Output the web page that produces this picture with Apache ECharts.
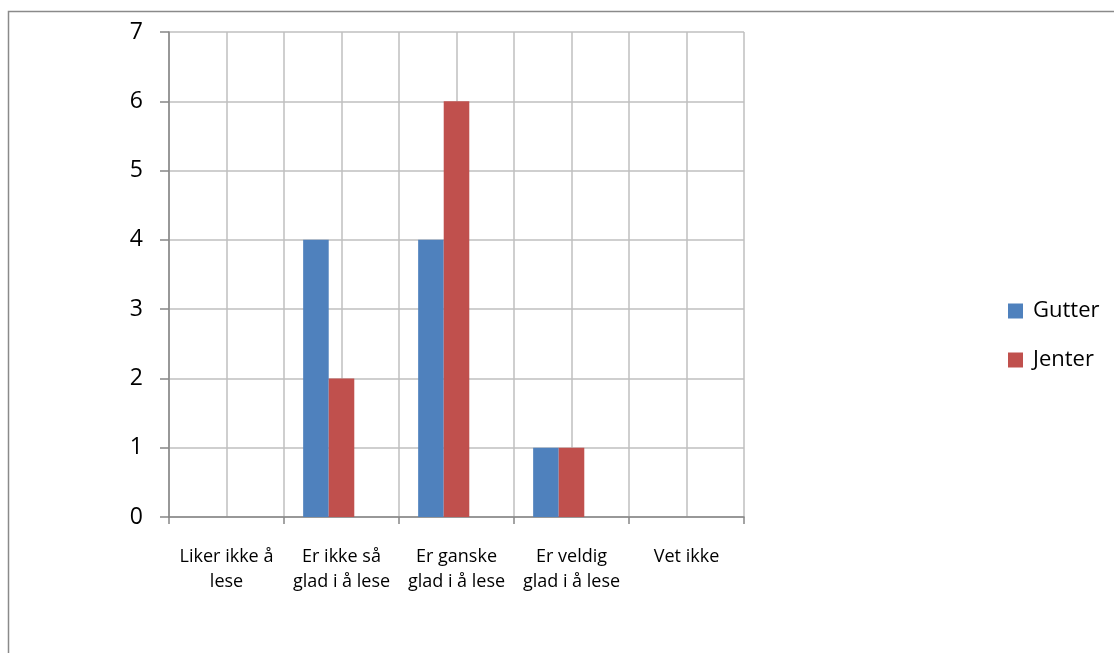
<!DOCTYPE html>
<html>
<head>
<meta charset="utf-8">
<script src="https://cdn.jsdelivr.net/npm/echarts@6/dist/echarts.min.js"></script>
<style>
  html, body { margin: 0; padding: 0; background: #fff; }
  #chart { width: 1114px; height: 653px; }
</style>
</head>
<body>
<div id="chart"></div>
<script>
// Svar på spørsmålet om lesing, fordelt på gutter og jenter
const categories = [
  'Liker ikke å\nlese',
  'Er ikke så\nglad i å lese',
  'Er ganske\nglad i å lese',
  'Er veldig\nglad i å lese',
  'Vet ikke'
];
const gutter = [0, 4, 4, 1, 0];
const jenter = [0, 2, 6, 1, 0];
const tom = [null, null, null, null, null]; // tom tredje serie holder plassen i hver gruppe
const yTicks = { min: 0, max: 7, step: 1 };

const FONT = '"Open Sans", Lato, sans-serif';
const AXIS_COLOR = '#868686';
const GRID_COLOR = '#bfbfbf';

const chart = echarts.init(document.getElementById('chart'), null, { renderer: 'canvas' });

chart.setOption({
  animation: false,
  backgroundColor: '#ffffff',
  textStyle: { fontFamily: FONT },
  graphic: [{
    type: 'rect',
    shape: { x: 8.5, y: 11.5, width: 1300, height: 800 },
    style: { fill: 'none', stroke: '#8a8a8a', lineWidth: 1.5 },
    silent: true
  }],
  grid: { left: 169, right: 370, top: 32, bottom: 136, containLabel: false },
  legend: {
    orient: 'vertical',
    left: 1008,
    top: 298,
    padding: 0,
    data: ['Gutter', 'Jenter'],
    itemWidth: 15,
    itemHeight: 15,
    itemGap: 23,
    icon: 'rect',
    textStyle: { fontFamily: FONT, fontSize: 22, color: '#000', lineHeight: 26, padding: [0, 0, 0, 5] }
  },
  xAxis: [{
    type: 'category',
    data: categories,
    boundaryGap: true,
    axisLine: { lineStyle: { color: AXIS_COLOR, width: 1.5 } },
    axisTick: { show: true, length: 7, lineStyle: { color: AXIS_COLOR, width: 1.5 } },
    splitLine: { show: false },
    axisLabel: {
      fontFamily: FONT, fontSize: 18, color: '#000', lineHeight: 25,
      margin: 27, interval: 0, align: 'center'
    }
  }, {
    type: 'category',
    position: 'bottom',
    data: ['', '', '', '', '', '', '', '', '', ''],
    boundaryGap: true,
    axisLine: { show: false },
    axisTick: { show: false },
    axisLabel: { show: false },
    splitLine: { show: true, lineStyle: { color: GRID_COLOR, width: 1.5 } }
  }],
  yAxis: {
    type: 'value',
    min: yTicks.min,
    max: yTicks.max,
    interval: yTicks.step,
    axisLine: { show: true, lineStyle: { color: AXIS_COLOR, width: 1.5 } },
    axisTick: { show: true, length: 9, lineStyle: { color: AXIS_COLOR, width: 1.5 } },
    splitLine: { show: true, lineStyle: { color: GRID_COLOR, width: 1.5 } },
    axisLabel: { fontFamily: FONT, fontSize: 23, color: '#000', margin: 26, verticalAlign: 'middle', padding: [4, 0, 0, 0] }
  },
  series: [{
    name: 'Gutter',
    type: 'bar',
    data: gutter,
    xAxisIndex: 0,
    itemStyle: { color: '#4F81BD' },
    barGap: '0%',
    barCategoryGap: '33.3%'
  }, {
    name: 'Jenter',
    type: 'bar',
    data: jenter,
    xAxisIndex: 0,
    itemStyle: { color: '#C0504D' },
    barGap: '0%',
    barCategoryGap: '33.3%'
  }, {
    name: 'Serie 3',
    type: 'bar',
    data: tom,
    xAxisIndex: 0,
    barGap: '0%',
    barCategoryGap: '33.3%'
  }]
});
</script>
</body>
</html>
